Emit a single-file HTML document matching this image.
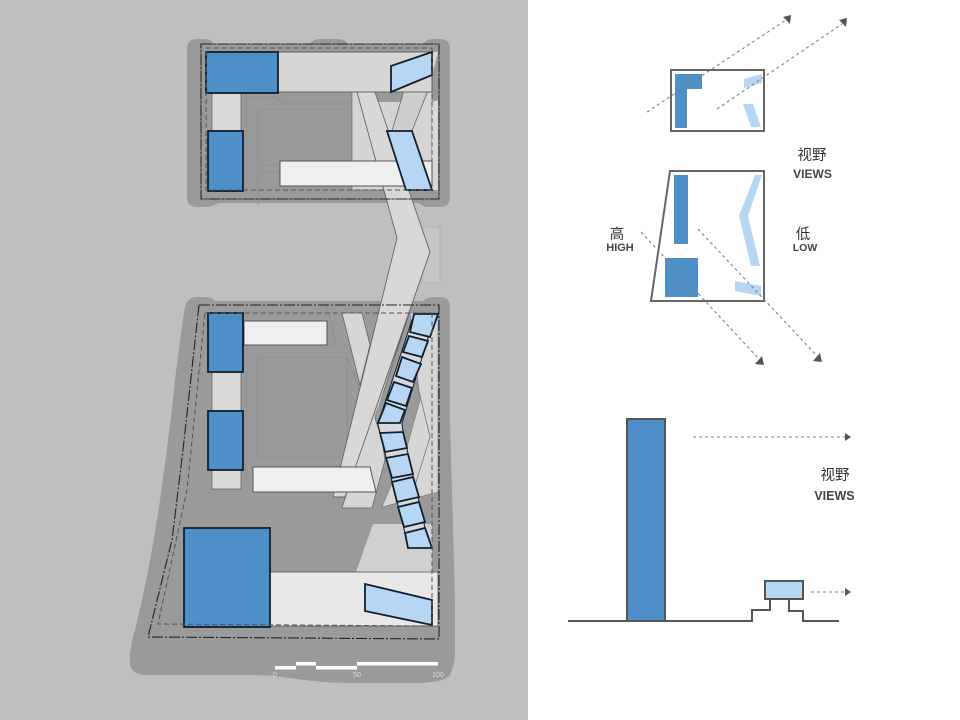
<!DOCTYPE html>
<html><head><meta charset="utf-8"><style>
html,body{margin:0;padding:0;background:#fff}
svg{display:block;filter:blur(.35px)}
.cj{font-family:"Liberation Sans","Noto Sans CJK SC",sans-serif;fill:#333;text-anchor:middle}
.en{font-family:"Liberation Sans",sans-serif;font-weight:700;fill:#444;text-anchor:middle}
.sc{font-family:"Liberation Sans",sans-serif;font-size:7px;fill:#ddd;text-anchor:middle}
.b{fill:#4f8fc8;stroke:#10202f;stroke-width:1.8}
.l{fill:#b6d6f4;stroke:#10202f;stroke-width:1.8}
.g{fill:#d6d6d6;stroke:#666;stroke-width:.8}
.w{fill:#efefef;stroke:#555;stroke-width:1}
.f{fill:none;stroke:#8e8e8e;stroke-width:.8}
.dd{fill:none;stroke:#222;stroke-width:1.1;stroke-dasharray:11 2 2 2}
.da{fill:none;stroke:#555;stroke-width:1;stroke-dasharray:5 3}
.ar{fill:none;stroke:#808080;stroke-width:1.1;stroke-dasharray:3 3}
.ah{fill:#555}
.o{fill:#fff;stroke:#666;stroke-width:2}
.p1{fill:#4f8fc8}.p2{fill:#b6d6f4}
</style></head><body>
<svg width="960" height="720" viewBox="0 0 960 720" xmlns="http://www.w3.org/2000/svg">
<rect x="0" y="0" width="960" height="720" fill="#fff"/>
<rect x="0" y="0" width="528" height="720" fill="#bfbfbf"/>

<!-- top site -->
<path d="M197 39H205Q211 39 214 44H310Q313 39 320 39H338Q345 39 348 44H423Q426 39 434 39H440Q450 39 450 49V197Q450 207 440 207H425Q420 203 415 203H218Q212 207 205 207H197Q187 207 187 197V49Q187 39 197 39Z" fill="#9a9a9a"/>
<rect x="422" y="227" width="18" height="56" fill="#c6c6c6" stroke="#adadad" stroke-width=".8"/>
<path class="f" d="M246 93V190M246 97H275L282 103H352M258 113Q258 109 262 109H352M258 113V161Q258 165 262 165H352M258 176Q258 172 262 172H280M258 176V205"/>

<!-- lower site -->
<path d="M196 297H205Q212 297 215 301H423Q427 297 434 297H440Q450 297 450 307V420L455 600V650Q455 665 450 675Q445 682 420 683H353Q320 683 290 678Q270 675 253 675H143Q130 673 130 663Q129 650 135 630Q150 570 160 500Q170 430 175 380Q180 340 184 312Q186 297 196 297Z" fill="#9a9a9a"/>
<rect x="257" y="357" width="90" height="101" rx="4" class="f"/>
<path class="f" d="M246 372V480M246 305V313M327 305Q335 340 336 345H327M347 357L362 395"/>

<!-- top block fill -->
<rect x="352" y="92" width="80" height="98" fill="#d4d4d4" stroke="#666" stroke-width=".6"/>
<polygon points="432,102 438,100 438,190 432,190" fill="#d8d8d8"/>
<polygon points="432,78 438,76 438,100 432,102" fill="#999"/>
<polygon points="432,52 438,52 432,76" fill="#d8d8d8"/>
<polygon points="375,92 405,92 403,102 378,102" fill="#999"/>
<polygon points="405,87 432,76 432,80 412,131 392,131" fill="#cdcdcd" stroke="#666" stroke-width=".8"/>
<rect x="278" y="52" width="154" height="40" fill="#d6d6d6" stroke="#555" stroke-width=".8"/>
<rect x="212" y="93" width="29" height="38" fill="#d9d9d9" stroke="#666" stroke-width=".8"/>

<!-- lower light regions -->
<polygon points="342,313 362,313 370,345 360,385" class="g"/>
<polygon points="410,313 438,313 438,492 382,507 407,447 420,400" fill="#d6d6d6" stroke="#777" stroke-width=".6"/>
<polyline points="417,383 430,437 412,495" fill="none" stroke="#777" stroke-width=".8"/>
<polygon points="409,314 375,418 382,440 385,460 372,508 342,508 355,467" class="g"/>
<polygon points="373,524 432,524 432,572 356,572" fill="#d0d0d0"/>
<rect x="270" y="572" width="168" height="54" fill="#e8e8e8" stroke="#555" stroke-width=".8"/>

<!-- bridge -->
<polygon points="357,92 375,92 430,252 345,497 333,497 397,238" fill="#d8d8d8" stroke="#666" stroke-width=".9"/>
<polygon points="395,366 400,369 380,418 374,416" fill="#999"/>
<polygon points="402,423 410,430 405,448" fill="#999"/>

<!-- top boxes -->
<rect x="280" y="161" width="152" height="25" class="w"/>
<polygon points="387,131 412,131 432,190 406,190" class="l"/>
<polygon points="391,66 432,52 432,75 391,92" class="l"/>
<rect x="206" y="52" width="72" height="41" class="b"/>
<rect x="208" y="131" width="35" height="60" class="b"/>

<!-- lower boxes -->
<rect x="212" y="372" width="29" height="39" fill="#d9d9d9" stroke="#666" stroke-width=".8"/>
<rect x="212" y="470" width="29" height="19" fill="#d9d9d9" stroke="#666" stroke-width=".8"/>
<rect x="244" y="321" width="83" height="24" class="w"/>
<polygon points="253,467 370,467 376,492 253,492" class="w"/>
<rect x="208" y="313" width="35" height="59" class="b"/>
<rect x="208" y="411" width="35" height="59" class="b"/>
<rect x="184" y="528" width="86" height="99" class="b"/>
<polygon points="365,584 432,600 432,625 365,611" class="l"/>

<!-- facade chain -->
<polygon points="412,320 432,325 402,423 403,432 425,528 405,533 380,433 378,424" fill="#d8d8d8" stroke="#10202f" stroke-width="1"/>
<g class="l">
<polygon points="414,314 438,314 430,337 410,332"/>
<polygon points="409,336 428,341 422,357 403,352"/>
<polygon points="402,357 421,364 413,382 396,376"/>
<polygon points="394,382 412,388 406,406 387,400"/>
<polygon points="386,403 405,410 400,423 378,423"/>
<polygon points="380,433 403,432 407,448 385,452"/>
<polygon points="386,458 408,454 413,474 392,478"/>
<polygon points="392,482 413,477 419,497 397,502"/>
<polygon points="398,507 419,502 425,522 404,527"/>
<polygon points="405,533 425,528 432,548 408,548"/>
</g>

<!-- boundaries -->
<rect x="201" y="44" width="238" height="155" class="dd"/>
<rect x="201" y="44" width="238" height="155" fill="none" stroke="#333" stroke-width=".6"/>
<path class="da" d="M206 48H432V190H206Z"/>
<path class="dd" d="M199 305H439V639L148 637L172 540L183 450Z"/>
<path class="da" d="M205 313H438M432 313V626L158 624L187 490L205 313"/>

<!-- scale -->
<rect x="275" y="666" width="21" height="3.5" fill="#fff"/>
<rect x="296" y="662" width="20" height="3.5" fill="#fff"/>
<rect x="316" y="666" width="41" height="3.5" fill="#fff"/>
<rect x="357" y="662" width="81" height="3.5" fill="#fff"/>
<text class="sc" x="275" y="677">0</text>
<text class="sc" x="357" y="677">50</text>
<text class="sc" x="438" y="677">100</text>

<!-- right top diagram -->
<rect x="671" y="70" width="93" height="61" class="o"/>
<polygon class="p1" points="675,74 702,74 702,89 687,89 687,128 675,128"/>
<polygon class="p2" points="744,79 762,74 762,83 744,88"/>
<polygon class="p2" points="743,104 753,104 761,127 751,127"/>
<line class="ar" x1="647" y1="112" x2="786" y2="20"/>
<polygon class="ah" points="791,15 790,24 783,17"/>
<line class="ar" x1="717" y1="109" x2="842" y2="24"/>
<polygon class="ah" points="847,18 846,27 839,20"/>
<text class="cj" x="812" y="160" font-size="14.5">视野</text>
<text class="en" x="812.5" y="178" font-size="12">VIEWS</text>

<!-- right mid diagram -->
<polygon points="670,171 764,171 764,301 651,301" class="o"/>
<rect class="p1" x="674" y="175" width="14" height="69"/>
<rect class="p1" x="665" y="258" width="33" height="39"/>
<polygon class="p2" points="755,175 762,175 748,216 760,266 751,266 739,216"/>
<polygon class="p2" points="735,281 761,286 761,296 735,291"/>
<line class="ar" x1="641" y1="232" x2="760" y2="360"/>
<polygon class="ah" points="764,365 755,364 762,356"/>
<line class="ar" x1="698" y1="229" x2="818" y2="357"/>
<polygon class="ah" points="822,362 813,361 820,353"/>
<text class="cj" x="617" y="239" font-size="14.5">高</text>
<text class="en" x="620" y="251" font-size="11">HIGH</text>
<text class="cj" x="803" y="239" font-size="14.5">低</text>
<text class="en" x="805" y="251" font-size="10.5">LOW</text>

<!-- section diagram -->
<rect x="627" y="419" width="38" height="202" fill="#4f8fc8" stroke="#555" stroke-width="2"/>
<polyline points="568,621 627,621" fill="none" stroke="#555" stroke-width="2"/>
<polyline points="665,621 752,621 752,610 770,610 770,599" fill="none" stroke="#555" stroke-width="2"/>
<polyline points="789,599 789,611 803,611 803,621 839,621" fill="none" stroke="#555" stroke-width="2"/>
<rect x="765" y="581" width="38" height="18" fill="#b6d6f4" stroke="#555" stroke-width="2"/>
<line class="ar" x1="693" y1="437" x2="845" y2="437"/>
<polygon class="ah" points="851,437 845,433 845,441"/>
<line class="ar" x1="811" y1="592" x2="845" y2="592"/>
<polygon class="ah" points="851,592 845,588 845,596"/>
<text class="cj" x="835" y="480" font-size="14.5">视野</text>
<text class="en" x="834.5" y="500" font-size="12.5">VIEWS</text>
</svg>
</body></html>
